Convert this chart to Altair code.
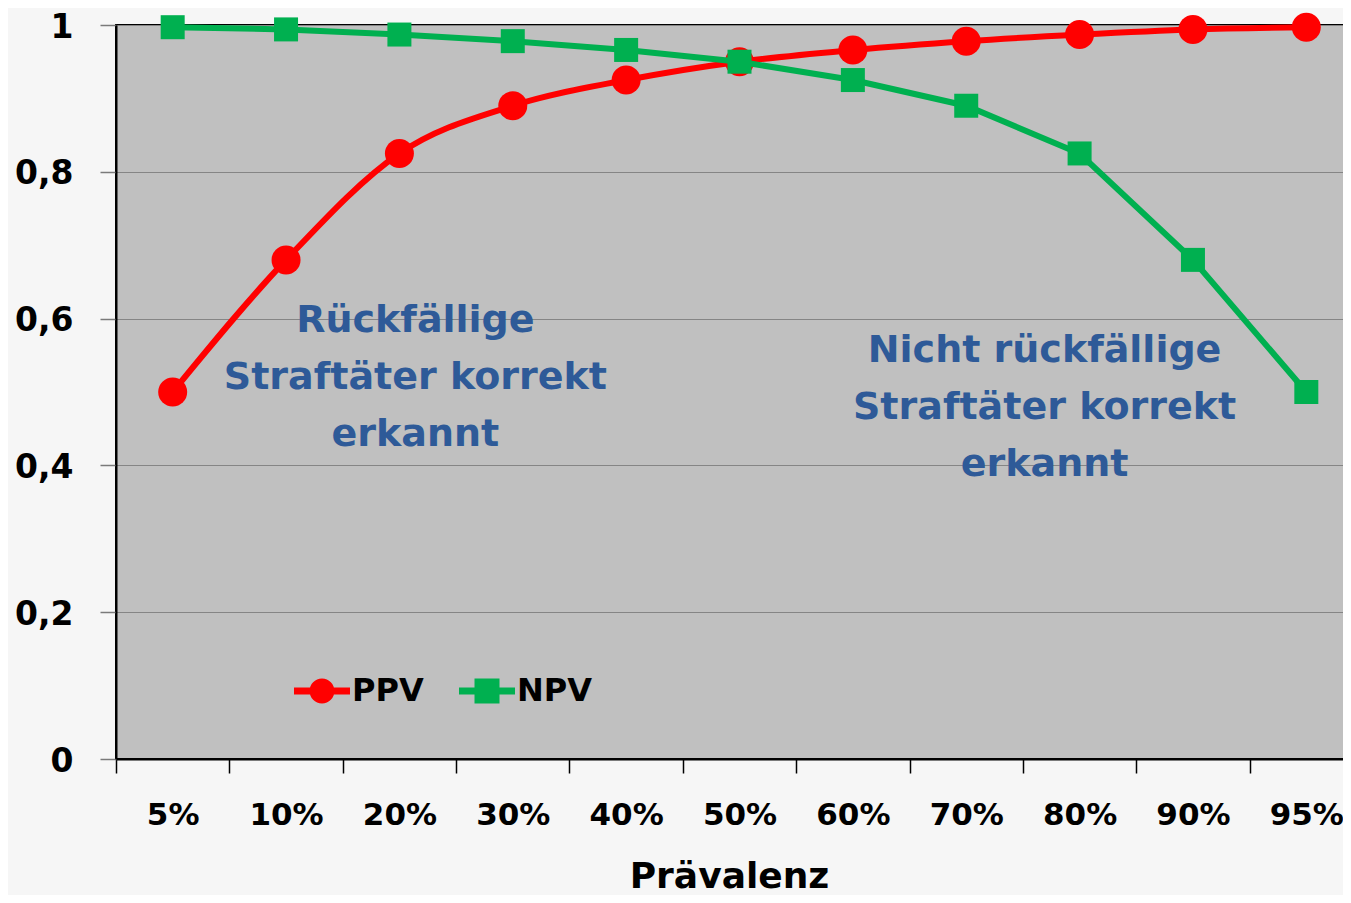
import altair as alt
import pandas as pd

# ---- data ----
categories = ["5%", "10%", "20%", "30%", "40%", "50%", "60%", "70%", "80%", "90%", "95%"]
ppv = [0.50, 0.68, 0.825, 0.89, 0.925, 0.95, 0.966, 0.978, 0.987, 0.994, 0.997]
npv = [0.997, 0.994, 0.987, 0.978, 0.966, 0.95, 0.925, 0.89, 0.825, 0.68, 0.50]
series = ["PPV", "NPV"]
colors = ["#FF0000", "#00B050"]
y_ticks = [0, 0.2, 0.4, 0.6, 0.8, 1]

ann_text = ["Rückfällige\nStraftäter korrekt\nerkannt",
            "Nicht rückfällige\nStraftäter korrekt\nerkannt"]
ann_cat = ["20%", "80%"]
ann_val = [0.597, 0.556]

FONT = "DejaVu Sans"

rows = []
for c, p, n in zip(categories, ppv, npv):
    rows.append({"Prävalenz": c, "Wert": p, "Reihe": "PPV"})
    rows.append({"Prävalenz": c, "Wert": n, "Reihe": "NPV"})
df = pd.DataFrame(rows)

x_enc = alt.X(
    "Prävalenz:N",
    sort=categories,
    scale=alt.Scale(type="band", domain=categories, paddingInner=0, paddingOuter=0),
    axis=alt.Axis(
        title="Prävalenz", titleFont=FONT, titleFontSize=36, titleFontWeight="bold",
        titleColor="black", titlePadding=29, titleX=613,
        labelAngle=0, labelFont=FONT, labelFontSize=31, labelFontWeight="bold",
        labelColor="black", labelPadding=27, labelOverlap=False,
        tickBand="extent", tickSize=14, tickColor="black", tickWidth=1.5,
        domainColor="black", domainWidth=2, grid=False,
    ),
)
y_enc = alt.Y(
    "Wert:Q",
    scale=alt.Scale(domain=[0, 1], nice=False),
    axis=alt.Axis(
        title=None, values=y_ticks,
        labelExpr="replace(format(datum.value, '.1~f'), '.', ',')",
        labelFont=FONT, labelFontSize=33, labelFontWeight="bold", labelColor="black",
        labelPadding=27, labelOffset=2, tickSize=16, tickColor="#7a7a7a", tickWidth=1.5,
        domainColor="black", domainWidth=2,
        grid=True, gridColor="#858585", gridWidth=1.2,
    ),
)
color_scale = alt.Scale(domain=series, range=colors)

legend_paths = [
    "M-2.24,-0.28H-0.9V0.28H-2.24Z M0.9,-0.28H2.24V0.28H0.9Z M1,0A1,1,0,1,1,-1,0A1,1,0,1,1,1,0Z",
    "M-2.24,-0.28H-1V0.28H-2.24Z M1,-0.28H2.24V0.28H1Z M-1,-1H1V1H-1Z",
]
legend = alt.Legend(
    title=None, orient="none", legendX=190, legendY=650, direction="horizontal",
    symbolSize=625, symbolStrokeWidth=0, symbolOpacity=1,
    labelFont=FONT, labelFontSize=32, labelFontWeight="bold", labelColor="black",
    labelOffset=14, columnPadding=34, padding=0,
)

base = alt.Chart(df)
is_ppv = alt.datum.Reihe == "PPV"
is_npv = alt.datum.Reihe == "NPV"

ppv_line = base.transform_filter(is_ppv).mark_line(
    interpolate="monotone", strokeWidth=6, color=colors[0]
).encode(x=x_enc, y=y_enc)

ppv_pts = base.transform_filter(is_ppv).mark_point(
    shape="circle", filled=True, size=841, opacity=1, color=colors[0]
).encode(x=x_enc, y=y_enc)

npv_line = base.transform_filter(is_npv).mark_line(
    strokeWidth=6, color=colors[1]
).encode(x=x_enc, y=y_enc)

npv_pts = base.transform_filter(is_npv).mark_square(
    size=576, opacity=1, color=colors[1]
).encode(x=x_enc, y=y_enc)

legend_layer = base.mark_point(filled=True, opacity=0).encode(
    x=x_enc, y=y_enc,
    color=alt.Color("Reihe:N", scale=color_scale, legend=legend),
    shape=alt.Shape("Reihe:N", scale=alt.Scale(domain=series, range=legend_paths), legend=legend),
)

ann_df = pd.DataFrame({"Prävalenz": ann_cat, "Wert": ann_val, "Text": ann_text})
text_style = dict(
    font=FONT, fontSize=38, fontWeight="bold", color="#2E5A98",
    lineBreak="\n", lineHeight=57, align="center", baseline="middle",
)
ann_left = alt.Chart(ann_df.iloc[[0]]).mark_text(dx=16, **text_style).encode(
    x=x_enc, y=y_enc, text="Text:N")
ann_right = alt.Chart(ann_df.iloc[[1]]).mark_text(dx=-35, **text_style).encode(
    x=x_enc, y=y_enc, text="Text:N")

chart = alt.layer(
    ppv_line, ppv_pts, npv_line, npv_pts, legend_layer, ann_left, ann_right
).properties(
    width=1247, height=734,
    autosize=alt.AutoSizeParams(type="none"),
    padding={"left": 108, "top": 17, "right": -20, "bottom": 136},
    background="#F6F6F6",
).configure_view(
    fill="#C0C0C0", stroke="black", strokeWidth=2,
)

chart.save("out.html", embed_options={"renderer": "svg", "actions": False})
